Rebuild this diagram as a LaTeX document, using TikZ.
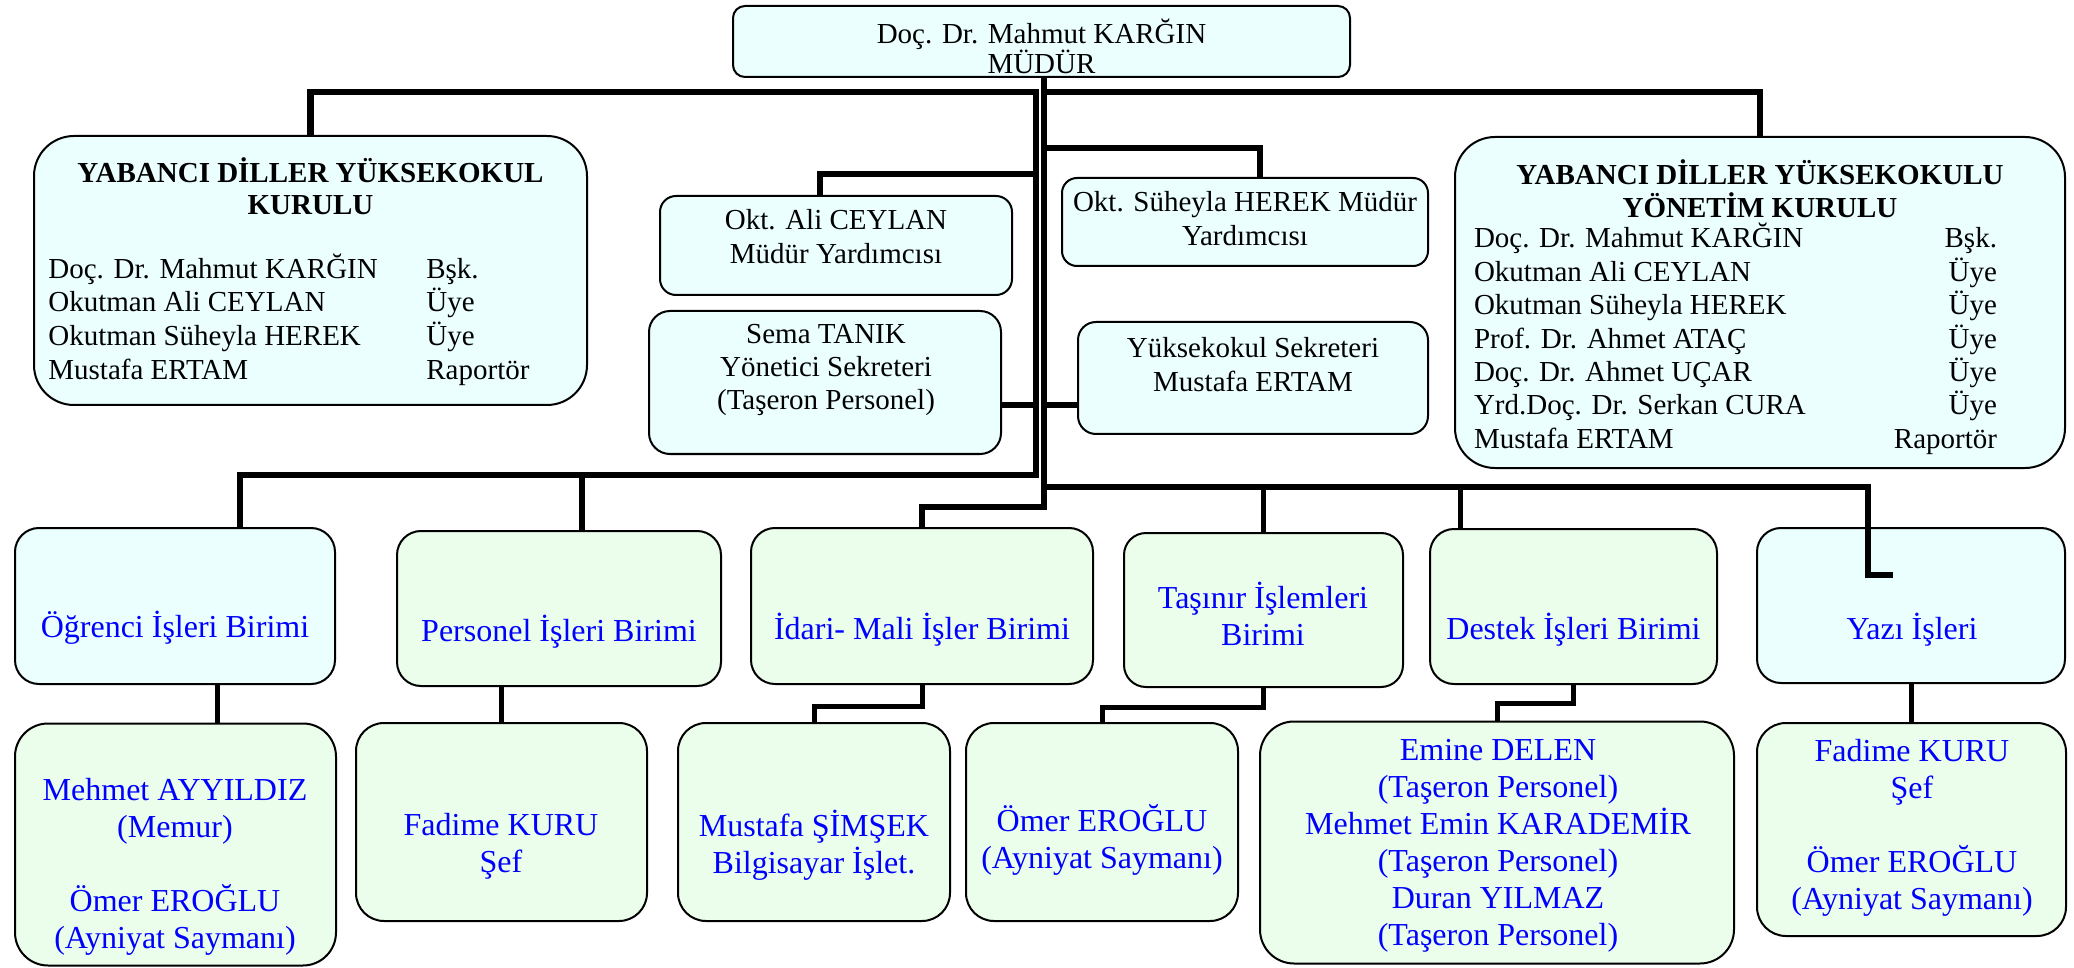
\documentclass[tikz,border=0pt]{standalone}
\usepackage{fontspec}
\setmainfont{Liberation Serif}
\usetikzlibrary{calc}
\definecolor{cyanfill}{HTML}{EBFFFF}
\definecolor{greenfill}{HTML}{EBFEEB}
\definecolor{txtblue}{HTML}{0000FF}
\tikzset{
  bx/.style={draw=black, line width=1pt, inner sep=0pt},
  cy/.style={bx, fill=cyanfill},
  gr/.style={bx, fill=greenfill},
  up/.style={font=\fontsize{14.5}{16.7}\selectfont, align=center, inner sep=0pt, text=black},
  ttl/.style={font=\bfseries\fontsize{14.5}{16}\selectfont, align=center, inner sep=0pt, text=black},
  lo/.style={font=\fontsize{16}{18.5}\selectfont, align=center, inner sep=0pt, text=txtblue},
  main/.style={line width=3.25pt, draw=black},
  br/.style={line width=2.5pt, draw=black},
}
\begin{document}
\begin{tikzpicture}[x=0.5pt, y=-0.5pt]
\useasboundingbox (0,0) rectangle (2074,968);

% ---------- boxes ----------
\node[cy, rounded corners=6pt, minimum width=308.5pt, minimum height=35.5pt] (mudur) at (1041.5,41.5) {};
\node[cy, rounded corners=20pt, minimum width=276.5pt, minimum height=134.5pt] (kurul) at (310.5,270.5) {};
\node[cy, rounded corners=20pt, minimum width=305pt, minimum height=165.5pt] (ykurul) at (1760,302.5) {};
\node[cy, rounded corners=8pt, minimum width=176pt, minimum height=49.5pt] (ali) at (836,245.5) {};
\node[cy, rounded corners=7.5pt, minimum width=183pt, minimum height=44pt] (suh) at (1245,222) {};
\node[cy, rounded corners=10.5pt, minimum width=176pt, minimum height=71.5pt] (sema) at (825,382.5) {};
\node[cy, rounded corners=9pt, minimum width=175pt, minimum height=56pt] (sek) at (1253,378) {};

\node[cy, rounded corners=12pt, minimum width=160pt, minimum height=78pt] (ogr) at (175,606) {};
\node[gr, rounded corners=12pt, minimum width=162pt, minimum height=77.5pt] (pers) at (559,608.5) {};
\node[gr, rounded corners=12pt, minimum width=171pt, minimum height=78pt] (idari) at (922,606) {};
\node[gr, rounded corners=11pt, minimum width=139.5pt, minimum height=77pt] (tas) at (1263.5,610) {};
\node[gr, rounded corners=12pt, minimum width=143.5pt, minimum height=77.5pt] (destek) at (1573.5,606.5) {};
\node[cy, rounded corners=12pt, minimum width=154pt, minimum height=77.5pt] (yazi) at (1911,605.5) {};

\node[gr, rounded corners=16.5pt, minimum width=160.5pt, minimum height=121pt] (mehmet) at (175.5,844.5) {};
\node[gr, rounded corners=14pt, minimum width=145.5pt, minimum height=99pt] (fad1) at (501.5,822) {};
\node[gr, rounded corners=14pt, minimum width=136pt, minimum height=99pt] (must) at (814,822) {};
\node[gr, rounded corners=14pt, minimum width=136pt, minimum height=99pt] (omer) at (1102,822) {};
\node[gr, rounded corners=17pt, minimum width=237pt, minimum height=121pt] (emine) at (1497,842.5) {};
\node[gr, rounded corners=14.5pt, minimum width=154.5pt, minimum height=106.5pt] (fad2) at (1911.5,829.5) {};

% ---------- junction coordinates ----------
\coordinate (trT) at ([xshift=1.25pt]mudur.south);
\coordinate (tlT) at (1036,92);
\coordinate (tlB) at (1036,475);
\coordinate (trJ) at (1044,92);
\coordinate (trB) at (1044,507);
\coordinate (aliJ) at (1036,174);
\coordinate (suhJ) at (1044,148);
\coordinate (brJ) at (1044,487);
\coordinate (yzK) at (1868,575);
\coordinate (yzEnd) at (1893,575);
\coordinate (semaP) at ([yshift=-11.25pt]sema.east);
\coordinate (sekP) at ([yshift=-13.5pt]sek.west);
\coordinate (dsP) at ([xshift=-56.75pt]destek.north);
\coordinate (om) at ([xshift=21pt]ogr.south);

% ---------- connectors ----------
\draw[main] (kurul.north) |- (tlT) -- (tlB) -| ([xshift=32.5pt]ogr.north);
\draw[main] ([xshift=11.5pt]pers.north) |- (tlB);
\draw[main] ([xshift=-8pt]ali.north) |- (aliJ);
\draw[main] (semaP) -- (semaP -| tlT);
\draw[main] (trT) -- (trB) -| (idari.north);
\draw[main] (ykurul.north) |- (trJ);
\draw[main] ([xshift=7.5pt]suh.north) |- (suhJ);
\draw[main] (sekP) -- (sekP -| trB);
\draw[main] (brJ) -| (yzK) -- (yzEnd);
\draw[br] (tas.north) -- (tas.north |- brJ);
\draw[br] (dsP) -- (dsP |- brJ);

\draw[br] (om) -- (om |- mehmet.north);
\draw[br] (fad1.north) -- (fad1.north |- pers.south);
\draw[br] (idari.south) -- ++(0,21) -| (must.north);
\draw[br] (tas.south) -- ++(0,19) -| (omer.north);
\draw[br] (destek.south) -- ++(0,18) -| (emine.north);
\draw[br] (yazi.south) -- (yazi.south |- fad2.north);

% ---------- texts ----------
\node[up, font=\fontsize{14.5}{15}\selectfont] (mudurT) at (1041.5,46) {Doç. Dr. Mahmut KARĞIN\\MÜDÜR};

\node[ttl] (kurulT) at (310.5,186) {YABANCI DİLLER YÜKSEKOKUL\\KURULU};
\node[up, font=\fontsize{14.5}{16.8}\selectfont, align=left, anchor=west] (kurulL) at (48,319.5)
  {\makebox[189pt][l]{Doç. Dr. Mahmut KARĞIN}Bşk.\\
   \makebox[189pt][l]{Okutman Ali CEYLAN}Üye\\
   \makebox[189pt][l]{Okutman Süheyla HEREK}Üye\\
   \makebox[189pt][l]{Mustafa ERTAM}Raportör};

\node[ttl, font=\bfseries\fontsize{14.5}{16.5}\selectfont] (ykurulT) at (1760,188.5) {YABANCI DİLLER YÜKSEKOKULU\\YÖNETİM KURULU};
\node[up] (ykurulL) at (1735.5,339)
  {\makebox[261.5pt]{Doç. Dr. Mahmut KARĞIN\hfill Bşk.}\\
   \makebox[261.5pt]{Okutman Ali CEYLAN\hfill Üye}\\
   \makebox[261.5pt]{Okutman Süheyla HEREK\hfill Üye}\\
   \makebox[261.5pt]{Prof. Dr. Ahmet ATAÇ\hfill Üye}\\
   \makebox[261.5pt]{Doç. Dr. Ahmet UÇAR\hfill Üye}\\
   \makebox[261.5pt]{Yrd.Doç. Dr. Serkan CURA\hfill Üye}\\
   \makebox[261.5pt]{Mustafa ERTAM\hfill Raportör}};

\node[up] (aliT) at (836,236.5) {Okt. Ali CEYLAN\\Müdür Yardımcısı};
\node[up] (suhT) at (1245,218.5) {Okt. Süheyla HEREK Müdür\\Yardımcısı};
\node[up] (semaT) at (826,370) {Sema TANIK\\Yönetici Sekreteri\\(Taşeron Personel)};
\node[up] (sekT) at (1253,364.5) {Yüksekokul Sekreteri\\Mustafa ERTAM};

\node[lo] (ogrT) at (175,628) {Öğrenci İşleri Birimi};
\node[lo] (persT) at (559,632) {Personel İşleri Birimi};
\node[lo] (idariT) at (922,630) {İdari- Mali İşler Birimi};
\node[lo] (tasT) at (1263,613.5) {Taşınır İşlemleri\\Birimi};
\node[lo] (destekT) at (1573.5,630) {Destek İşleri Birimi};
\node[lo] (yaziT) at (1912,630) {Yazı İşleri};

\node[lo] (mehmetT) at (175,866.5) {Mehmet AYYILDIZ\\(Memur)\\[18.5pt]Ömer EROĞLU\\(Ayniyat Saymanı)};
\node[lo] (fad1T) at (501,846) {Fadime KURU\\Şef};
\node[lo] (mustT) at (814,845) {Mustafa ŞİMŞEK\\Bilgisayar İşlet.};
\node[lo] (omerT) at (1102,840) {Ömer EROĞLU\\(Ayniyat Saymanı)};
\node[lo] (emineT) at (1498,845.5) {Emine DELEN\\(Taşeron Personel)\\Mehmet Emin KARADEMİR\\(Taşeron Personel)\\Duran YILMAZ\\(Taşeron Personel)};
\node[lo] (fad2T) at (1912,827.5) {Fadime KURU\\Şef\\[18.5pt]Ömer EROĞLU\\(Ayniyat Saymanı)};
\end{tikzpicture}
\end{document}
